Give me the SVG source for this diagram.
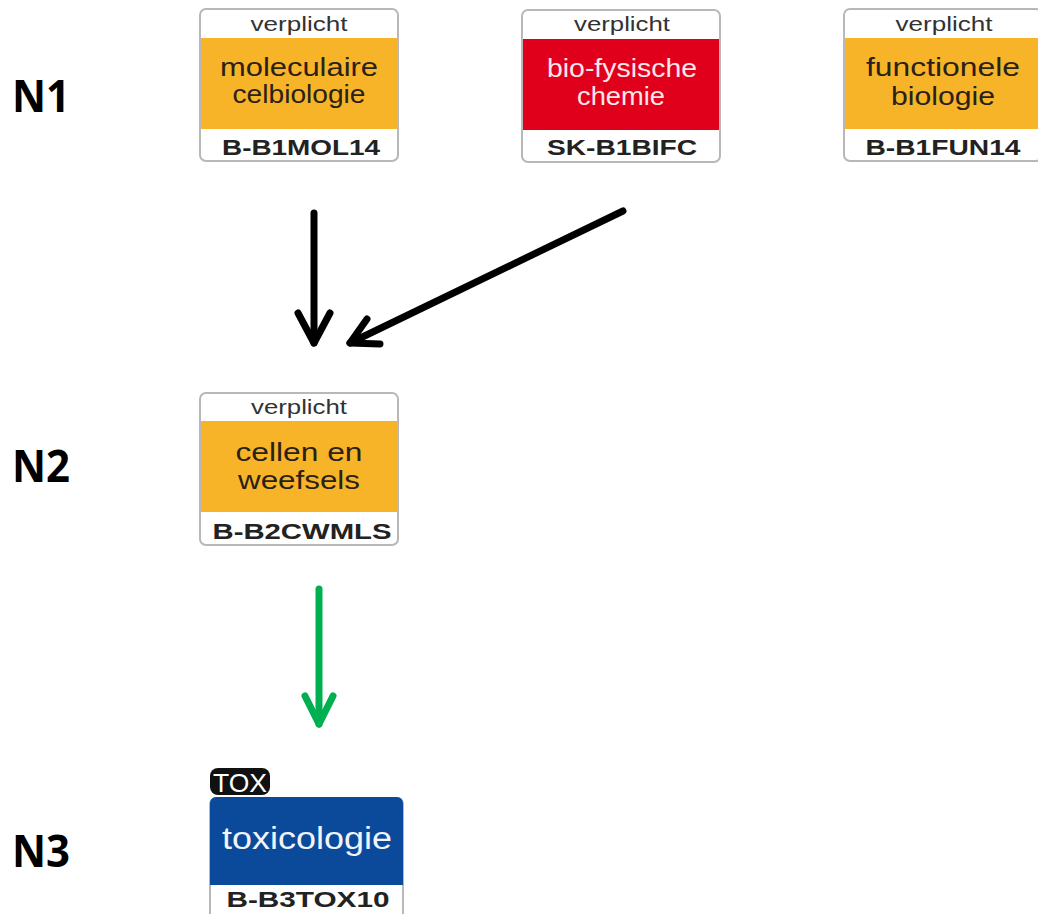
<svg xmlns="http://www.w3.org/2000/svg" width="1038" height="914" viewBox="0 0 1038 914">
  <style>
    .frame { fill: #ffffff; stroke: #b8b8b8; stroke-width: 2; }
    .orange { fill: #f8b428; }
    .red { fill: #e0001b; }
    .blue { fill: #0b4a9b; }
    .tag { font-family: "Liberation Sans", Arial, sans-serif; font-size: 20px; fill: #333333; text-anchor: middle; }
    .title { font-family: "Liberation Sans", Arial, sans-serif; font-size: 26px; fill: #2a2118; text-anchor: middle; }
    .title-light { font-family: "Liberation Sans", Arial, sans-serif; font-size: 26px; fill: #fbe6e8; text-anchor: middle; }
    .code { font-family: "Liberation Sans", Arial, sans-serif; font-size: 22px; font-weight: bold; fill: #222222; text-anchor: middle; }
    .level { font-family: "Open Sans", "Liberation Sans", sans-serif; font-size: 45px; font-weight: bold; fill: #000000; }
    .arrow { fill: none; stroke-width: 7; stroke-linecap: round; stroke-linejoin: round; }
  </style>

  <!-- level labels -->
  <g id="levels">
    <text class="level" x="12" y="112" textLength="58" lengthAdjust="spacingAndGlyphs">N1</text>
    <text class="level" x="12" y="482" textLength="58" lengthAdjust="spacingAndGlyphs">N2</text>
    <text class="level" x="12" y="867" textLength="58" lengthAdjust="spacingAndGlyphs">N3</text>
  </g>

  <!-- moleculaire celbiologie -->
  <g id="mol">
    <rect class="frame" x="200" y="9" width="198" height="152" rx="6"/>
    <rect class="orange" x="201" y="38" width="196" height="91"/>
    <text class="tag" x="299" y="31" textLength="97" lengthAdjust="spacingAndGlyphs">verplicht</text>
    <text class="title" x="299" y="76" textLength="158" lengthAdjust="spacingAndGlyphs">moleculaire</text>
    <text class="title" x="299" y="103" textLength="133" lengthAdjust="spacingAndGlyphs">celbiologie</text>
    <text class="code" x="301" y="155" textLength="158" lengthAdjust="spacingAndGlyphs">B-B1MOL14</text>
  </g>

  <!-- bio-fysische chemie -->
  <g id="bifc">
    <rect class="frame" x="522" y="10" width="198" height="152" rx="6"/>
    <rect class="red" x="523" y="39" width="196" height="91"/>
    <text class="tag" x="622" y="31" textLength="96" lengthAdjust="spacingAndGlyphs">verplicht</text>
    <text class="title-light" x="622" y="77" textLength="150" lengthAdjust="spacingAndGlyphs">bio-fysische</text>
    <text class="title-light" x="621" y="105" textLength="88" lengthAdjust="spacingAndGlyphs">chemie</text>
    <text class="code" x="622" y="155" textLength="150" lengthAdjust="spacingAndGlyphs">SK-B1BIFC</text>
  </g>

  <!-- functionele biologie -->
  <g id="fun">
    <rect class="frame" x="844" y="9" width="198" height="152" rx="6"/>
    <rect class="orange" x="845" y="38" width="196" height="91"/>
    <text class="tag" x="944" y="31" textLength="97" lengthAdjust="spacingAndGlyphs">verplicht</text>
    <text class="title" x="943" y="76" textLength="154" lengthAdjust="spacingAndGlyphs">functionele</text>
    <text class="title" x="943" y="105" textLength="104" lengthAdjust="spacingAndGlyphs">biologie</text>
    <text class="code" x="943" y="155" textLength="155" lengthAdjust="spacingAndGlyphs">B-B1FUN14</text>
  </g>

  <!-- cellen en weefsels -->
  <g id="cwmls">
    <rect class="frame" x="200" y="393" width="198" height="152" rx="6"/>
    <rect class="orange" x="201" y="421" width="196" height="91"/>
    <text class="tag" x="299" y="414" textLength="96" lengthAdjust="spacingAndGlyphs">verplicht</text>
    <text class="title" x="299" y="461" textLength="127" lengthAdjust="spacingAndGlyphs">cellen en</text>
    <text class="title" x="299" y="489" textLength="122" lengthAdjust="spacingAndGlyphs">weefsels</text>
    <text class="code" x="302" y="539" textLength="179" lengthAdjust="spacingAndGlyphs">B-B2CWMLS</text>
  </g>

  <!-- toxicologie -->
  <g id="tox">
    <rect x="210" y="768" width="60" height="27" rx="8" fill="#111111"/>
    <text x="240" y="792" font-family="Liberation Sans, Arial, sans-serif" font-size="25" fill="#ffffff" text-anchor="middle" textLength="54" lengthAdjust="spacingAndGlyphs">TOX</text>
    <rect class="frame" x="210" y="798" width="193" height="130" rx="6"/>
    <path class="blue" d="M216 797 H397 A6 6 0 0 1 403 803 V885 H210 V803 A6 6 0 0 1 216 797 Z"/>
    <text x="307" y="849" font-family="Liberation Sans, Arial, sans-serif" font-size="31" fill="#f2f4fa" text-anchor="middle" textLength="170" lengthAdjust="spacingAndGlyphs">toxicologie</text>
    <text class="code" x="308" y="907" textLength="163" lengthAdjust="spacingAndGlyphs">B-B3TOX10</text>
  </g>

  <!-- prerequisite connectors -->
  <g id="connectors">
    <path class="arrow" stroke="#000000" d="M314 213 V343"/>
    <path class="arrow" stroke="#000000" d="M298 313 L314 343 L330 313"/>
    <path class="arrow" stroke="#000000" d="M623 211 L350 343"/>
    <path class="arrow" stroke="#000000" d="M367 319 L350 343 L380 344"/>
    <path class="arrow" stroke="#00b050" d="M319 589 V724"/>
    <path class="arrow" stroke="#00b050" d="M305 696 L319 724 L333 696"/>
  </g>
</svg>
